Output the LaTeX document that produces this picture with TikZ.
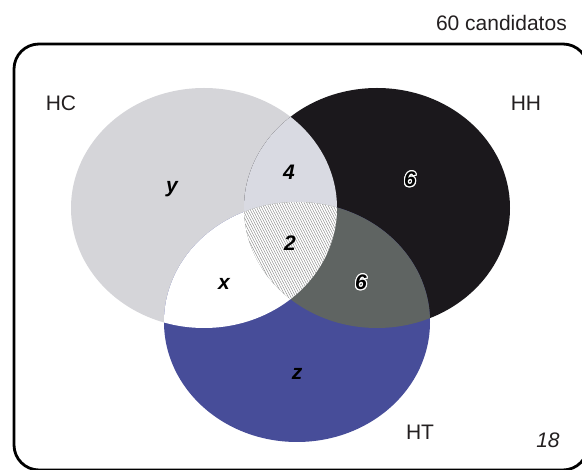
\documentclass[tikz,border=0pt]{standalone}
\usepackage{fontspec}
\setmainfont{Liberation Sans}
\usepackage[copies]{contour}
\contourlength{1.1pt}
\definecolor{hccol}{HTML}{D5D5D9}
\definecolor{hhcol}{HTML}{1B181C}
\definecolor{htcol}{HTML}{474D99}
\definecolor{hchhcol}{HTML}{D9DAE2}
\definecolor{hhhtcol}{HTML}{5F6462}
\definecolor{hatchcol}{HTML}{8C8C8C}
\definecolor{txtcol}{HTML}{231F20}
\begin{document}
\begin{tikzpicture}[x=1pt,y=-1pt,
  lab/.style={font=\fontsize{21}{21}\selectfont, text=txtcol, inner sep=0pt},
  num/.style={font=\fontsize{21}{21}\selectfont\bfseries\itshape, text=black, inner sep=0pt},
  frame/.style={draw=black, line width=2.8pt, rounded corners=25pt}]
\useasboundingbox (0,0) rectangle (582,470);
% sets
\fill[hccol] (204,208) ellipse [x radius=133pt, y radius=120pt];
\fill[hhcol] (377,208) ellipse [x radius=133pt, y radius=120pt];
\fill[htcol] (297,322) ellipse [x radius=133pt, y radius=120pt];
% HC and HH
\begin{scope}
  \clip (204,208) ellipse [x radius=133pt, y radius=120pt];
  \fill[hchhcol] (377,208) ellipse [x radius=133pt, y radius=120pt];
  \fill[white] (297,322) ellipse [x radius=133pt, y radius=120pt];
\end{scope}
% HH and HT
\begin{scope}
  \clip (377,208) ellipse [x radius=133pt, y radius=120pt];
  \fill[hhhtcol] (297,322) ellipse [x radius=133pt, y radius=120pt];
\end{scope}
% all three
\begin{scope}
  \clip (204,208) ellipse [x radius=133pt, y radius=120pt];
  \clip (377,208) ellipse [x radius=133pt, y radius=120pt];
  \clip (297,322) ellipse [x radius=133pt, y radius=120pt];
  \fill[white] (230,190) rectangle (350,310);
  \foreach \a in {150,152.5,...,350}
    \draw[hatchcol, line width=0.45pt] (\a,190) -- ++(60,115);
\end{scope}
% frame
\draw[frame] (14,44) rectangle (588,470);
% labels
\node[lab, anchor=east] (total) at (567,23) {60 candidatos};
\node[lab] (hc) at (61,103) {HC};
\node[lab] (hh) at (526,103) {HH};
\node[lab] (ht) at (420,432) {HT};
\node[lab, font=\fontsize{21}{21}\selectfont\itshape] (out) at (548,440) {18};
\node[num] (ny) at (172,189) {y};
\node[num] (nx) at (224,284) {x};
\node[num] (nz) at (297,374) {z};
\node[num] (n4) at (289,172) {4};
\node[num] (n2) at (290,243) {2};
\node[num] (n6a) at (410,180) {\contour{white}{6}};
\node[num] (n6b) at (361,283) {\contour{white}{6}};
\end{tikzpicture}
\end{document}
